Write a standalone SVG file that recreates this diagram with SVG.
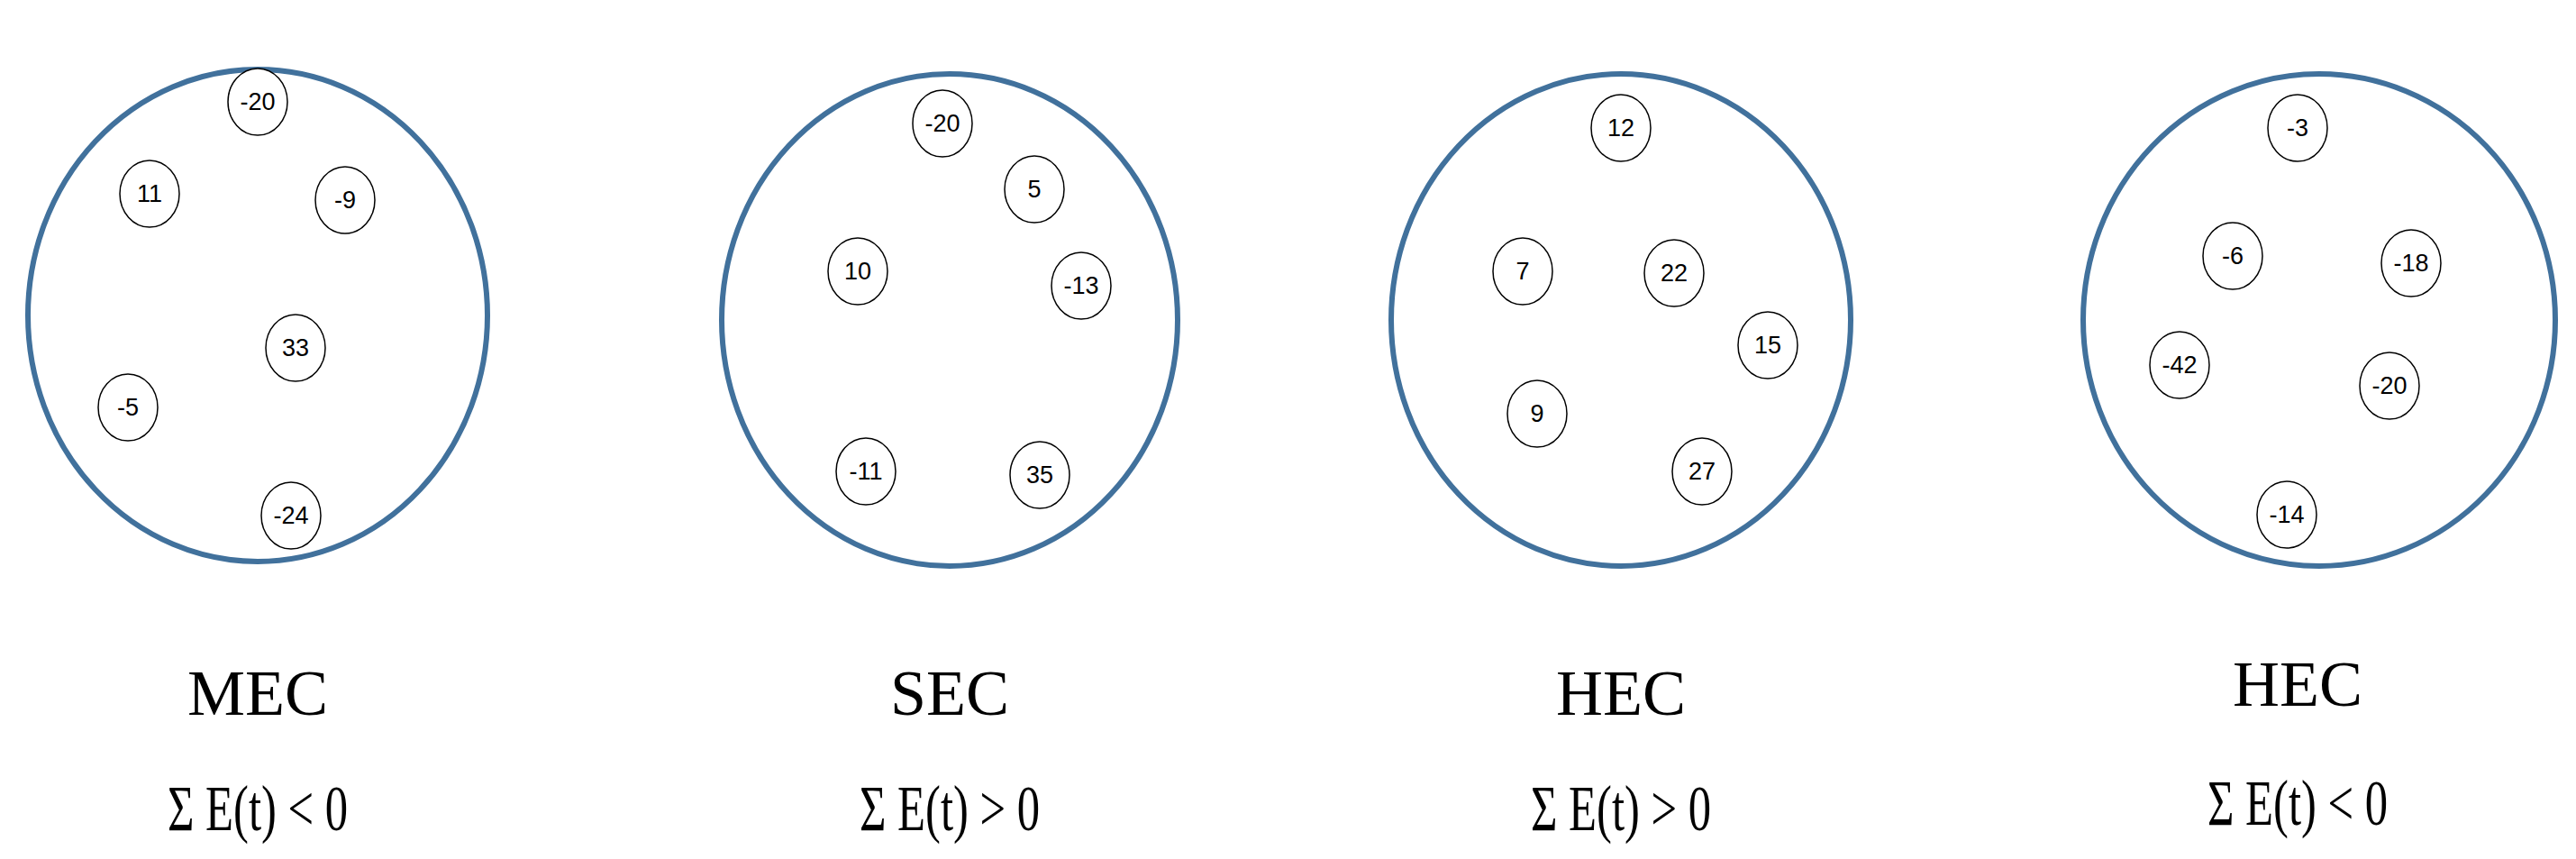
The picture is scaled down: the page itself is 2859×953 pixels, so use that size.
<svg xmlns="http://www.w3.org/2000/svg" width="2859" height="953" viewBox="0 0 2859 953">
<style>
.big{fill:#fff;stroke:#41719C;stroke-width:6}
.sm{fill:#fff;stroke:#000;stroke-width:1.5}
.n{font-family:"Liberation Sans",Arial,sans-serif;font-size:27px;text-anchor:middle;dominant-baseline:central}
.l{font-family:"Liberation Serif","Times New Roman",serif;font-size:72px;text-anchor:middle}
</style>
<rect width="2859" height="953" fill="#fff"/>
<g id="mec">
<ellipse class="big" cx="286" cy="350" rx="255" ry="273"/>
<ellipse class="sm" cx="286" cy="113" rx="33" ry="37"/><text class="n" x="286" y="113">-20</text>
<ellipse class="sm" cx="166" cy="215" rx="33" ry="37"/><text class="n" x="166" y="215">11</text>
<ellipse class="sm" cx="383" cy="222" rx="33" ry="37"/><text class="n" x="383" y="222">-9</text>
<ellipse class="sm" cx="328" cy="386" rx="33" ry="37"/><text class="n" x="328" y="386">33</text>
<ellipse class="sm" cx="142" cy="452" rx="33" ry="37"/><text class="n" x="142" y="452">-5</text>
<ellipse class="sm" cx="323" cy="572" rx="33" ry="37"/><text class="n" x="323" y="572">-24</text>
<text class="l" x="286" y="793">MEC</text>
<text class="l" x="286" y="921" textLength="200" lengthAdjust="spacingAndGlyphs">Σ E(t) &lt; 0</text>
</g>
<g id="sec">
<ellipse class="big" cx="1054" cy="355" rx="253" ry="273"/>
<ellipse class="sm" cx="1046" cy="137" rx="33" ry="37"/><text class="n" x="1046" y="137">-20</text>
<ellipse class="sm" cx="1148" cy="210" rx="33" ry="37"/><text class="n" x="1148" y="210">5</text>
<ellipse class="sm" cx="952" cy="301" rx="33" ry="37"/><text class="n" x="952" y="301">10</text>
<ellipse class="sm" cx="1200" cy="317" rx="33" ry="37"/><text class="n" x="1200" y="317">-13</text>
<ellipse class="sm" cx="961" cy="523" rx="33" ry="37"/><text class="n" x="961" y="523">-11</text>
<ellipse class="sm" cx="1154" cy="527" rx="33" ry="37"/><text class="n" x="1154" y="527">35</text>
<text class="l" x="1054" y="793">SEC</text>
<text class="l" x="1054" y="921" textLength="200" lengthAdjust="spacingAndGlyphs">Σ E(t) &gt; 0</text>
</g>
<g id="hec1">
<ellipse class="big" cx="1799" cy="355" rx="255" ry="273"/>
<ellipse class="sm" cx="1799" cy="142" rx="33" ry="37"/><text class="n" x="1799" y="142">12</text>
<ellipse class="sm" cx="1690" cy="301" rx="33" ry="37"/><text class="n" x="1690" y="301">7</text>
<ellipse class="sm" cx="1858" cy="303" rx="33" ry="37"/><text class="n" x="1858" y="303">22</text>
<ellipse class="sm" cx="1962" cy="383" rx="33" ry="37"/><text class="n" x="1962" y="383">15</text>
<ellipse class="sm" cx="1706" cy="459" rx="33" ry="37"/><text class="n" x="1706" y="459">9</text>
<ellipse class="sm" cx="1889" cy="523" rx="33" ry="37"/><text class="n" x="1889" y="523">27</text>
<text class="l" x="1799" y="793">HEC</text>
<text class="l" x="1799" y="921" textLength="200" lengthAdjust="spacingAndGlyphs">Σ E(t) &gt; 0</text>
</g>
<g id="hec2">
<ellipse class="big" cx="2574" cy="355" rx="262" ry="273"/>
<ellipse class="sm" cx="2550" cy="142" rx="33" ry="37"/><text class="n" x="2550" y="142">-3</text>
<ellipse class="sm" cx="2478" cy="284" rx="33" ry="37"/><text class="n" x="2478" y="284">-6</text>
<ellipse class="sm" cx="2676" cy="292" rx="33" ry="37"/><text class="n" x="2676" y="292">-18</text>
<ellipse class="sm" cx="2419" cy="405" rx="33" ry="37"/><text class="n" x="2419" y="405">-42</text>
<ellipse class="sm" cx="2652" cy="428" rx="33" ry="37"/><text class="n" x="2652" y="428">-20</text>
<ellipse class="sm" cx="2538" cy="571" rx="33" ry="37"/><text class="n" x="2538" y="571">-14</text>
<text class="l" x="2550" y="783">HEC</text>
<text class="l" x="2550" y="915" textLength="200" lengthAdjust="spacingAndGlyphs">Σ E(t) &lt; 0</text>
</g>
<g id="connectors"/>
</svg>
